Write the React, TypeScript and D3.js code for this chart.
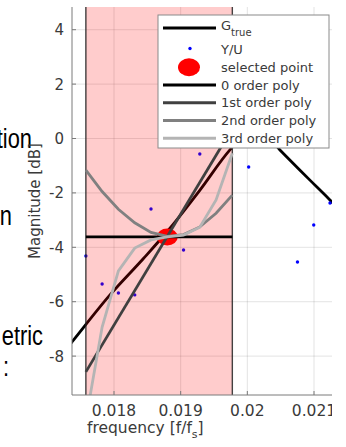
import React from 'react';
import * as d3 from 'd3';

// ---------- data ----------
const gTrueFreq = [0.01719, 0.01737, 0.01794, 0.018435, 0.01884, 0.019289, 0.019739, 0.020129, 0.020489, 0.020939, 0.021239, 0.021538];
const gTrueMag = [-8.03, -7.48, -5.75, -4.43, -3.3, -1.9, -0.42, 0.49, -0.42, -1.53, -2.26, -3.07];

const yuFreq = [0.017578, 0.017822, 0.018066, 0.018311, 0.018555, 0.018799, 0.019043, 0.019287, 0.02002, 0.020752, 0.020996, 0.02124];
const yuMag = [-4.32, -5.35, -5.68, -5.75, -2.59, -3.62, -4.1, -0.57, -1.05, -4.54, -3.18, -2.37];

const selectedFreq = 0.018799;
const selectedMag = -3.62;

const windowFreq = [0.017578, 0.019775];

const binFreq = [0.017578, 0.017822, 0.018066, 0.018311, 0.018555, 0.018799, 0.019043, 0.019287, 0.019531, 0.019775];
const poly0Mag = [-3.62, -3.62, -3.62, -3.62, -3.62, -3.62, -3.62, -3.62, -3.62, -3.62];
const poly1Ends = [-8.58, 0.38];
const poly2Mag = [-1.16, -1.95, -2.6, -3.1, -3.45, -3.6, -3.53, -3.25, -2.75, -2.08];
const poly3Mag = [-10.35, -6.93, -4.87, -4.03, -3.73, -3.62, -3.55, -3.26, -2.26, -0.54];

const xTicks = [0.018, 0.019, 0.02, 0.021];
const xTickLabels = ['0.018', '0.019', '0.02', '0.021'];
const yTicks = [-8, -6, -4, -2, 0, 2, 4];
const yTickLabels = ['-8', '-6', '-4', '-2', '0', '2', '4'];

const legendLabels = ['G', 'Y/U', 'selected point', '0 order poly', '1st order poly', '2nd order poly', '3rd order poly'];
const polyColors = ['#000000', '#404040', '#808080', '#b4b4b4'];

const slideTexts = ['tion', 'n', 'etric', ':'];

// ---------- layout ----------
const W = 346;
const H = 447;
const left = 72;
const top = 7;
const bottom = 395;
const right = 332;
const axFont = "'DejaVu Sans', 'Liberation Sans', Arial, sans-serif";
const txtColor = '#3a3a3a';

export default function App() {
  const x = d3.scaleLinear().domain([0.018, 0.021]).range([114, 314]);
  const y = d3.scaleLinear().domain([-8, 4]).range([356.1, 29.7]);

  const lineFn = d3
    .line<[number, number]>()
    .x((d) => x(d[0]))
    .y((d) => y(d[1]));
  const smoothLine = d3
    .line<[number, number]>()
    .x((d) => x(d[0]))
    .y((d) => y(d[1]))
    .curve(d3.curveMonotoneX);

  const gTruePath = smoothLine(gTrueFreq.map((f, i) => [f, gTrueMag[i]]));
  const poly0Path = lineFn(binFreq.map((f, i) => [f, poly0Mag[i]]));
  const poly1Path = lineFn([
    [windowFreq[0], poly1Ends[0]],
    [windowFreq[1], poly1Ends[1]],
  ]);
  const poly2Path = lineFn(binFreq.map((f, i) => [f, poly2Mag[i]]));
  const poly3Path = lineFn(binFreq.map((f, i) => [f, poly3Mag[i]]));
  const polyPaths = [poly0Path, poly1Path, poly2Path, poly3Path];

  const rowY = (i: number) => (i === 0 ? 28 : 49.5 + (i - 1) * 17.75);

  const slidePos = [
    { xe: 32, yb: 148 },
    { xe: 12, yb: 225 },
    { xe: 43, yb: 345 },
    { xe: 9, yb: 376 },
  ];

  return (
    <svg
      width={W}
      height={H}
      style={{ position: 'absolute', left: 0, top: 0, background: '#fff' }}
    >
      <defs>
        <clipPath id="plotClip">
          <rect x={left} y={top} width={right - left} height={bottom - top} />
        </clipPath>
        <clipPath id="figClip">
          <rect x={0} y={0} width={right} height={H} />
        </clipPath>
      </defs>

      {/* slide text fragments on the left */}
      {slideTexts.map((t, i) => (
        <text
          key={'s' + i}
          transform={`translate(${slidePos[i].xe},${slidePos[i].yb}) scale(0.78,1)`}
          textAnchor="end"
          fontFamily="'Liberation Sans', Arial, sans-serif"
          fontSize={28}
          fill="#000"
        >
          {t}
        </text>
      ))}

      <g clipPath="url(#figClip)">
        {/* grid */}
        <g clipPath="url(#plotClip)">
          {xTicks.map((t) => (
            <line key={'gx' + t} x1={x(t)} x2={x(t)} y1={top} y2={bottom} stroke="#262626" strokeOpacity={0.13} strokeWidth={1} />
          ))}
          {yTicks.map((t) => (
            <line key={'gy' + t} x1={left} x2={right} y1={y(t)} y2={y(t)} stroke="#262626" strokeOpacity={0.13} strokeWidth={1} />
          ))}

          {/* true response */}
          <path d={gTruePath || ''} fill="none" stroke="#000" strokeWidth={2.8} />

          {/* measured points */}
          {yuFreq.map((f, i) => (
            <circle key={'yu' + i} cx={x(f)} cy={y(yuMag[i])} r={1.7} fill="#0000ff" />
          ))}

          {/* selected point */}
          <ellipse cx={x(selectedFreq)} cy={y(selectedMag)} rx={10.5} ry={8.5} fill="#ff0000" />

          {/* window patch */}
          <rect
            x={x(windowFreq[0])}
            y={top - 20}
            width={x(windowFreq[1]) - x(windowFreq[0])}
            height={bottom - top + 40}
            fill="#ff0000"
            fillOpacity={0.2}
            stroke="#222"
            strokeOpacity={0.85}
            strokeWidth={1.4}
          />

          {/* local polynomial fits */}
          {polyPaths.map((p, i) => (
            <path key={'p' + i} d={p || ''} fill="none" stroke={polyColors[i]} strokeWidth={2.8} />
          ))}
        </g>

        {/* axes */}
        <line x1={left} x2={left} y1={top} y2={bottom} stroke="#7a7a7a" strokeWidth={1} />
        <line x1={left} x2={right} y1={bottom} y2={bottom} stroke="#7a7a7a" strokeWidth={1} />
        {xTicks.map((t) => (
          <line key={'tx' + t} x1={x(t)} x2={x(t)} y1={bottom} y2={bottom - 4} stroke="#7a7a7a" strokeWidth={1} />
        ))}
        {yTicks.map((t) => (
          <line key={'ty' + t} x1={left} x2={left + 4} y1={y(t)} y2={y(t)} stroke="#7a7a7a" strokeWidth={1} />
        ))}

        {/* tick labels */}
        {xTicks.map((t, i) => (
          <text key={'lx' + t} x={x(t)} y={416} textAnchor="middle" fontFamily={axFont} fontSize={15.5} fill={txtColor}>
            {xTickLabels[i]}
          </text>
        ))}
        {yTicks.map((t, i) => (
          <text
            key={'ly' + t}
            x={64}
            y={y(t) + 5.5}
            textAnchor="end"
            fontFamily={axFont}
            fontSize={15}
            fill={txtColor}
          >
            {yTickLabels[i]}
          </text>
        ))}

        {/* axis labels */}
        <text x={87} y={433} fontFamily={axFont} fontSize={15.5} fill={txtColor}>
          frequency [f/f
          <tspan dy={5} fontSize={11}>s</tspan>
          <tspan dy={-5}>]</tspan>
        </text>
        <text
          transform={`translate(40,201) rotate(-90)`}
          textAnchor="middle"
          fontFamily={axFont}
          fontSize={15}
          fill={txtColor}
        >
          Magnitude [dB]
        </text>

        {/* legend */}
        <rect x={158} y={15} width={171} height={133} fill="#fff" stroke="#8a8a8a" strokeWidth={1} />
        {legendLabels.map((lab, i) => {
          const cy = rowY(i);
          let marker: React.ReactNode = null;
          if (i === 0) {
            marker = <line x1={163} x2={216} y1={cy} y2={cy} stroke="#000" strokeWidth={2.8} />;
          } else if (i === 1) {
            marker = <circle cx={190} cy={cy - 1} r={1.7} fill="#0000ff" />;
          } else if (i === 2) {
            marker = <ellipse cx={189} cy={cy} rx={11} ry={9} fill="#ff0000" />;
          } else {
            marker = <line x1={163} x2={216} y1={cy} y2={cy} stroke={polyColors[i - 3]} strokeWidth={2.8} />;
          }
          return (
            <g key={'lg' + i}>
              {marker}
              <text x={221} y={i === 0 ? 30 : cy + 4.7} fontFamily={axFont} fontSize={13} fill={txtColor}>
                {lab}
                {i === 0 ? (
                  <tspan dy={6} fontSize={10}>
                    true
                  </tspan>
                ) : null}
              </text>
            </g>
          );
        })}
      </g>
    </svg>
  );
}
